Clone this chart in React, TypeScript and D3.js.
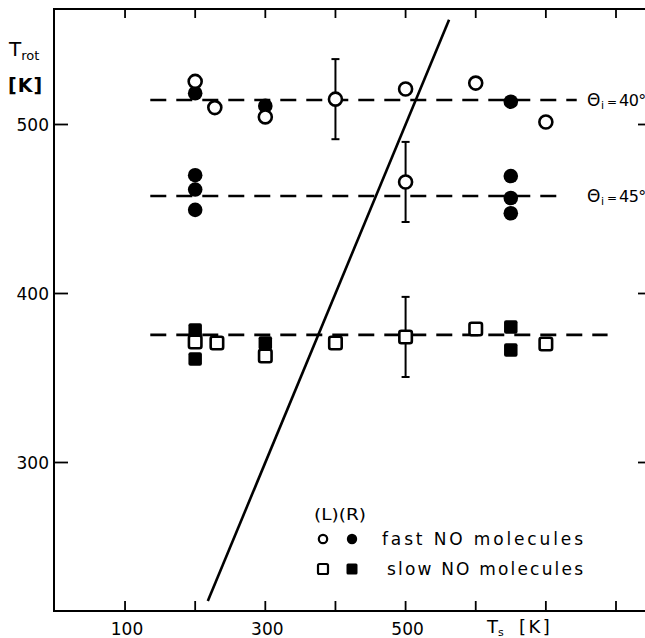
import React from "react";
import * as d3 from "d3";

// ---- data (Ts [K], Trot [K]) ----
const fastL: [number, number][] = [
  [200, 525.5], [228, 510], [300, 504.5], [400, 515], [500, 521], [600, 524.5], [700, 501.5],
  [500, 466],
];
const fastR: [number, number][] = [
  [200, 518.5], [300, 511], [650, 513.5],
  [200, 470], [200, 461.5], [200, 449.5], [650, 469.5], [650, 456.5], [650, 447.5],
];
const slowL: [number, number][] = [
  [200, 371.3], [231, 370.7], [300, 363], [400, 370.7], [500, 374.3], [600, 379], [700, 370.1],
];
const slowR: [number, number][] = [
  [200, 378.4], [200, 361.2], [300, 370.7], [650, 380.2], [650, 366.6],
];
// error bars: [Ts, Trot, half-width]
const errorBars: [number, number, number][] = [
  [400, 515, 23.7], [500, 466, 23.7], [500, 374.3, 23.7],
];
// dashed mean levels: [Trot, TsStart, TsEnd, label]
const levels: [number, number, number, string][] = [
  [514.5, 136, 744, "40°"],
  [457.7, 136, 727, "45°"],
  [375.5, 136, 788, ""],
];
const diagonal: [number, number][] = [[218, 218], [562, 562]];
const xTicks = [100, 200, 300, 400, 500, 600, 700, 800];
const xTickLabels = [100, 300, 500];
const yTicks = [300, 400, 500];

const W = 645;
const H = 638;
const x = d3.scaleLinear().domain([0, 800]).range([54.9, 616]);
const y = d3.scaleLinear().domain([300, 500]).range([462.5, 124.5]);
const TOP = 9;
const BOTTOM = 611;
const LEFT = 54;
const RIGHT = 651;
const FONT = "DejaVu Sans, sans-serif";

export default function App() {
  const line = d3.line<[number, number]>().x((d) => x(d[0])).y((d) => y(d[1]));
  const R = 6.5;
  const S = 12.5;
  return (
    <svg
      width={W}
      height={H}
      style={{ position: "fixed", left: 0, top: 0, background: "#fff" }}
      fontFamily={FONT}
    >
      <rect x={0} y={0} width={W} height={H} fill="#fff" />
      {/* frame */}
      <path
        d={`M${RIGHT},${TOP}H${LEFT}V${BOTTOM}H${RIGHT}`}
        fill="none"
        stroke="#000"
        strokeWidth={2}
      />
      <line x1={RIGHT} x2={RIGHT} y1={TOP} y2={BOTTOM} stroke="#000" strokeWidth={2} />
      {/* x ticks bottom & top */}
      {xTicks.map((t) => (
        <g key={"xt" + t}>
          <line x1={x(t)} x2={x(t)} y1={BOTTOM} y2={BOTTOM - 10} stroke="#000" strokeWidth={1.8} />
          <line x1={x(t)} x2={x(t)} y1={TOP} y2={TOP + 9} stroke="#000" strokeWidth={1.8} />
        </g>
      ))}
      {xTickLabels.map((t) => (
        <text key={"xl" + t} x={x(t) + 2} y={635} fontSize={17} textAnchor="middle">
          {t}
        </text>
      ))}
      <text x={487} y={633} fontSize={18}>
        T<tspan fontSize={11} dy={3}>s</tspan>
        <tspan dy={-3} x={519} letterSpacing={2.5}>[K]</tspan>
      </text>
      {/* y ticks left & right */}
      {yTicks.map((t) => (
        <g key={"yt" + t}>
          <line x1={LEFT} x2={LEFT + 14} y1={y(t)} y2={y(t)} stroke="#000" strokeWidth={1.8} />
          <line x1={RIGHT} x2={RIGHT - 13} y1={y(t)} y2={y(t)} stroke="#000" strokeWidth={1.8} />
          <text x={49} y={y(t) + 6} fontSize={17} textAnchor="end">
            {t}
          </text>
        </g>
      ))}
      <text x={9} y={56} fontSize={20}>
        T<tspan fontSize={13} dy={4}>rot</tspan>
      </text>
      <text x={8} y={92} fontSize={19} fontWeight="bold" letterSpacing={1}>
        [K]
      </text>
      {/* dashed levels */}
      {levels.map(([v, a, b, lab], i) => (
        <g key={"lv" + i}>
          <line
            x1={x(a)}
            x2={x(b)}
            y1={y(v)}
            y2={y(v)}
            stroke="#000"
            strokeWidth={2.6}
            strokeDasharray="16 10"
          />
          {lab && (
            <text x={587} y={y(v) + 6} fontSize={17}>
              Θ<tspan fontSize={11} dy={3} x={601}>i</tspan>
              <tspan dy={-3} x={607} fontSize={12}>=</tspan>
              <tspan x={619} fontSize={16} letterSpacing={-0.5}>{lab}</tspan>
            </text>
          )}
        </g>
      ))}
      {/* diagonal */}
      <path d={line(diagonal) || ""} fill="none" stroke="#000" strokeWidth={2.6} />
      {/* error bars */}
      {errorBars.map(([t, v, e], i) => (
        <g key={"eb" + i} stroke="#000" strokeWidth={2}>
          <line x1={x(t)} x2={x(t)} y1={y(v - e)} y2={y(v + e)} />
          <line x1={x(t) - 4} x2={x(t) + 4} y1={y(v - e)} y2={y(v - e)} />
          <line x1={x(t) - 4} x2={x(t) + 4} y1={y(v + e)} y2={y(v + e)} />
        </g>
      ))}
      {/* filled markers first */}
      {fastR.map(([t, v], i) => (
        <circle key={"fr" + i} cx={x(t)} cy={y(v)} r={R + 0.8} fill="#000" />
      ))}
      {slowR.map(([t, v], i) => (
        <rect
          key={"sr" + i}
          x={x(t) - (S + 1) / 2}
          y={y(v) - (S + 1) / 2}
          width={S + 1}
          height={S + 1}
          rx={2}
          fill="#000"
        />
      ))}
      {fastL.map(([t, v], i) => (
        <circle
          key={"fl" + i}
          cx={x(t)}
          cy={y(v)}
          r={R}
          fill="#fff"
          stroke="#000"
          strokeWidth={2.6}
        />
      ))}
      {slowL.map(([t, v], i) => (
        <rect
          key={"sl" + i}
          x={x(t) - S / 2}
          y={y(v) - S / 2}
          width={S}
          height={S}
          rx={2}
          fill="#fff"
          stroke="#000"
          strokeWidth={2.6}
        />
      ))}
      {/* legend */}
      <text x={314} y={520} fontSize={16} textLength={52} lengthAdjust="spacingAndGlyphs">
        (L)(R)
      </text>
      <circle cx={323} cy={539} r={4.2} fill="#fff" stroke="#000" strokeWidth={2.2} />
      <circle cx={352} cy={539} r={5.2} fill="#000" />
      <text x={382} y={545} fontSize={17} textLength={201} lengthAdjust="spacing">
        fast  NO molecules
      </text>
      <rect x={318} y={564} width={10} height={10} rx={1.5} fill="#fff" stroke="#000" strokeWidth={2.2} />
      <rect x={346.5} y={563.5} width={11} height={11} rx={1.5} fill="#000" />
      <text x={387} y={575} fontSize={17} textLength={196} lengthAdjust="spacing">
        slow  NO molecules
      </text>
    </svg>
  );
}
